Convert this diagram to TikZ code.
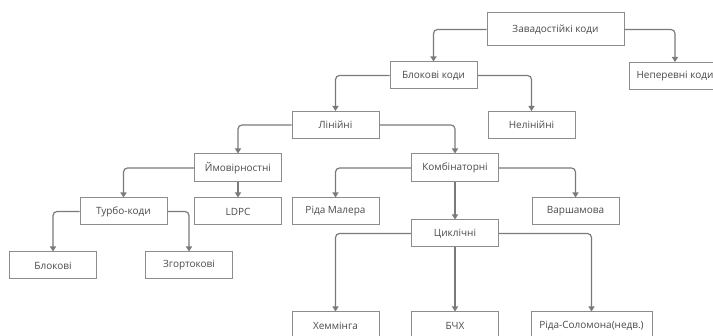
\documentclass[tikz,border=0pt]{standalone}
\usepackage{fontspec}
\setmainfont{Open Sans}
\usetikzlibrary{arrows.meta}
\definecolor{boxgray}{HTML}{8C8C8C}
\definecolor{linegray}{HTML}{7A7A7A}
\definecolor{txtgray}{HTML}{4A4A4A}
\begin{document}
\begin{tikzpicture}[x=1pt,y=-1pt]
        \useasboundingbox (0,0) rectangle (713,336);
        \clip (0,0) rectangle (713,336);

        \begin{scope}[every node/.style={rectangle, draw=boxgray, line width=1pt, text=txtgray, inner sep=0pt, minimum width=87pt, minimum height=27pt, font=\fontsize{10}{11}\selectfont}]
        \node[minimum width=137pt, minimum height=33pt] (zav) at (555.5,29.5) {Завадостійкі коди};
        \node (blok) at (433.5,75.5) {Блокові коди};
        \node[minimum width=92pt] (nepe) at (675,76) {Неперевні коди};
        \node (lin) at (335.5,125) {Лінійні};
        \node (nelin) at (531.5,125) {Нелінійні};
        \node[minimum height=28pt] (ymov) at (238,168) {Ймовірностні};
        \node[minimum height=28pt] (komb) at (455,168) {Комбінаторні};
        \node (turbo) at (123.5,211.5) {Турбо-коди};
        \node (ldpc) at (238,211.5) {LDPC};
        \node (ridam) at (335.5,211.5) {Ріда Малера};
        \node (varsh) at (575.5,211.5) {Варшамова};
        \node (cykl) at (455,233.5) {Циклічні};
        \node (blokovi) at (53,265.5) {Блокові};
        \node (zgort) at (189,265.5) {Згортокові};
        \node (hemm) at (335.5,325.5) {Хеммінга};
        \node (bchx) at (455,325.5) {БЧХ};
        \node[minimum width=121pt] (rsol) at (591.5,325.5) {Ріда-Соломона(недв.)};
        \end{scope}

        \begin{scope}[>={Triangle[length=5pt,width=6pt]}, line width=1.2pt, draw=linegray, fill=linegray, rounded corners=4pt]
        \draw [->] (zav.west) -| (blok.north);
        \draw [->] (zav.east) -| (nepe.north);
        \draw [->] (blok.west) -| (lin.north);
        \draw [->] (blok.east) -| (nelin.north);
        \draw [->] (lin.west) -| (ymov.north);
        \draw [->] (lin.east) -| (komb.north);
        \draw [->] (ymov.west) -| (turbo.north);
        \draw [->] (ymov) -- (ldpc);
        \draw [->] (komb.west) -| (ridam.north);
        \draw [->] (komb.east) -| (varsh.north);
        \draw [->] (komb) -- (cykl);
        \draw [->] (turbo.west) -| (blokovi.north);
        \draw [->] (turbo.east) -| (zgort.north);
        \draw [->] (cykl.west) -| (hemm.north);
        \draw [->] (cykl) -- (bchx);
        \draw [->] (cykl.east) -| (rsol.north);
        \end{scope}
    \end{tikzpicture}
\end{document}
